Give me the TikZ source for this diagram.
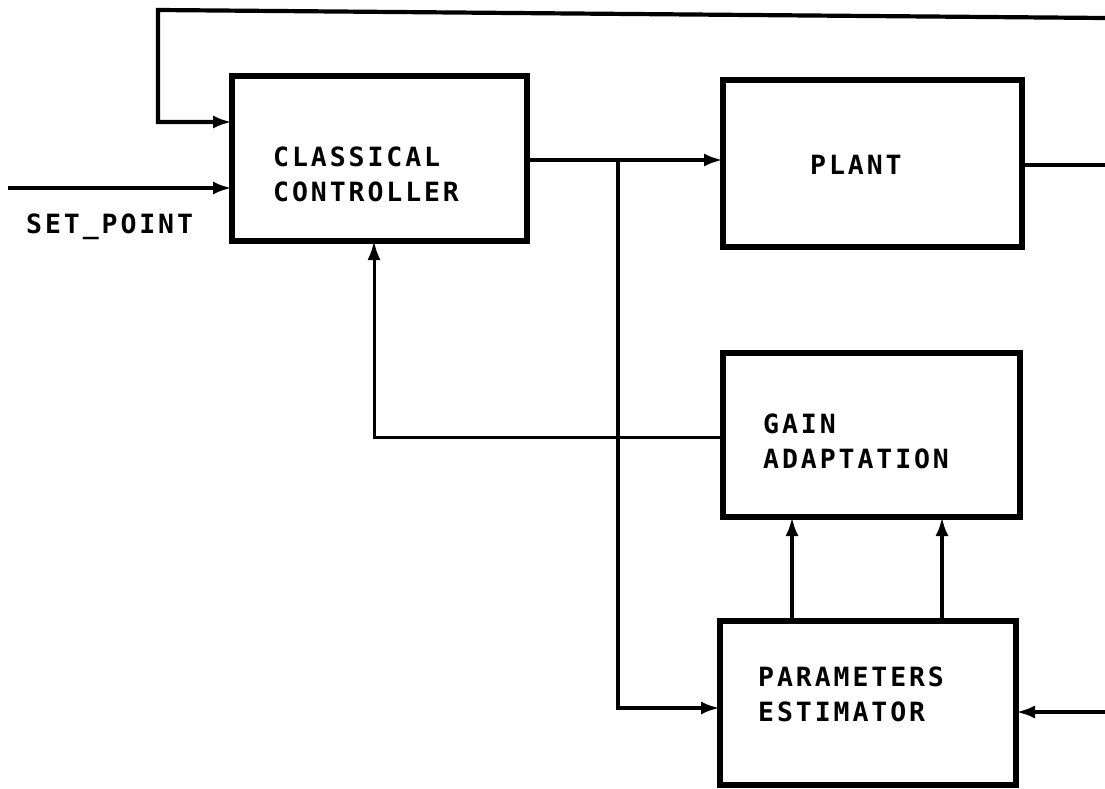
\documentclass[tikz,border=0pt]{standalone}
\usepackage{fontspec}
\newfontfamily\plotfont[LetterSpace=11]{DejaVu Sans Mono}
\usetikzlibrary{arrows.meta}
\begin{document}
\begin{tikzpicture}[x=1pt,y=-1pt,
  box/.style={draw,rectangle,line width=5.5pt,inner sep=0pt,outer sep=0pt},
  wire/.style={line width=4.2pt},
  thinwire/.style={line width=3pt},
  arr/.style={-{Latex[length=19pt,width=13pt]}},
  lab/.style={inner sep=0pt,anchor=west,align=left,
    font=\plotfont\bfseries\fontsize{26.5}{35}\selectfont}]
\useasboundingbox (0,0) rectangle (1105,789);

% blocks
\node[box,minimum width=295pt,minimum height=165pt] (ctrl)  at (379.5,158.5) {};
\node[box,minimum width=299pt,minimum height=167pt] (plant) at (872.5,163.5) {};
\node[box,minimum width=297pt,minimum height=164pt] (gain)  at (871.5,435) {};
\node[box,minimum width=296pt,minimum height=164pt] (param) at (868,703) {};

% texts
\node[lab] (ctrlT)  at (273,174)   {CLASSICAL\\CONTROLLER};
\node[lab] (plantT) at (810,165)   {PLANT};
\node[lab] (gainT)  at (763,441.5) {GAIN\\ADAPTATION};
\node[lab] (paramT) at (758,694.5) {PARAMETERS\\ESTIMATOR};
\node[lab] (spT)    at (26,227)    {SET\_POINT};

% helper coordinates
\coordinate (topR) at (1105,18);
\coordinate (topL) at (158,10);
\coordinate (fbY)  at (0,122);
\coordinate (sp)   at (8,188);
\coordinate (uY)   at (0,160);
\coordinate (br)   at (618,160);
\coordinate (peY)  at (0,708);
\coordinate (yOut) at (0,165);
\coordinate (pout) at (1105,165);
\coordinate (gY)   at (0,437);
\coordinate (gX)   at (374,0);
\coordinate (a1)   at (792,0);
\coordinate (a2)   at (942,0);
\coordinate (pin)  at (1105,712);

% connectors
\draw[wire,arr] (topR) -- (topL) |- (ctrl.west |- fbY);
\draw[wire,arr] (sp) -- (sp -| ctrl.west);
\draw[wire,arr] (ctrl.east |- uY) -- (plant.west |- uY);
\draw[wire,arr] (br) |- (param.west |- peY);
\draw[wire] (plant.east |- yOut) -- (pout);
\draw[thinwire,arr] (gain.west |- gY) -| (gX |- ctrl.south);
\draw[wire,arr] (a1 |- param.north) -- (a1 |- gain.south);
\draw[wire,arr] (a2 |- param.north) -- (a2 |- gain.south);
\draw[wire,arr] (pin) -- (pin -| param.east);
\end{tikzpicture}
\end{document}
